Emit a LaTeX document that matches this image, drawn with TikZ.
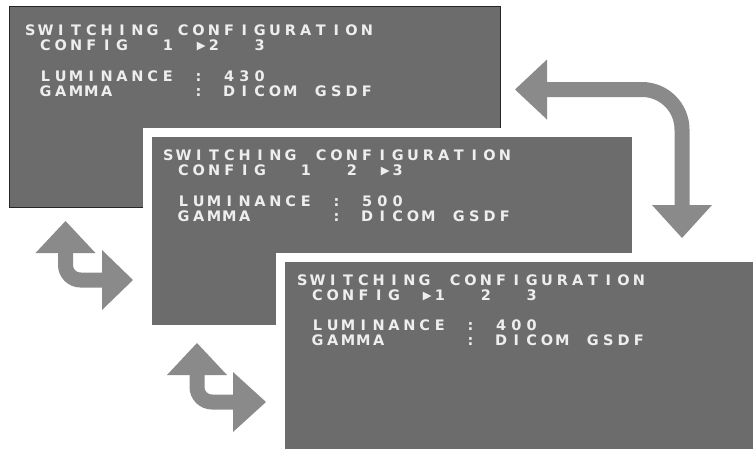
\documentclass[tikz,border=0pt]{standalone}
\usepackage{fontspec}
\setmainfont{DejaVu Sans}
\definecolor{panelgray}{HTML}{6C6C6C}
\definecolor{arrowgray}{HTML}{8A8A8A}
\definecolor{osdwhite}{HTML}{EEEEEE}
\newlength\osdpitch
\setlength\osdpitch{15.3pt}
\newcommand\osdcell[1]{\makebox[\osdpitch][c]{#1}}
\newcommand\osdtri{\makebox[\osdpitch][r]{\fontsize{11.5}{12}\selectfont\raisebox{0.5pt}{▶}\kern0.5pt}}
\def\osd#1{\osdloop#1\relax}
\def\osdloop#1{\ifx#1\relax\else\ifx#1*\osdcell{}\else\ifx#1>\osdtri\else\osdcell{#1}\fi\fi\expandafter\osdloop\fi}
\tikzset{
  panel/.style={rectangle, fill=panelgray, inner sep=0pt, anchor=north west},
  panelframed/.style={panel, preaction={draw=white, line width=18pt}},
  osdtxt/.style={text=osdwhite, inner sep=0pt, anchor=base west, font=\fontsize{14.5}{16}\selectfont\bfseries},
  shaft/.style={draw=arrowgray, line width=15pt},
  head/.style={fill=arrowgray}
}
\begin{document}
\begin{tikzpicture}[x=1pt,y=-1pt]
\useasboundingbox (0,0) rectangle (753,448);
% panel 1
\node[panel, draw=black!85, line width=1.2pt, minimum width=491pt, minimum height=201pt] (p1) at (9,6) {};
\node[osdtxt] (p1a) at (22.4,35) {\osd{SWITCHING*CONFIGURATION}};
\node[osdtxt] (p1b) at (22.4,50) {\osd{*CONFIG**1*>2**3}};
\node[osdtxt] (p1c) at (22.4,81) {\osd{*LUMINANCE*:*430}};
\node[osdtxt] (p1d) at (22.4,96) {\osd{*GAMMA*****:*DICOM*GSDF}};
% big arrow
\draw[shaft, rounded corners=40pt] (546,89.5) -- (682,89.5) -- (682,206);
\fill[head] (515,89.5) -- (547,59.5) -- (547,119.5) -- cycle;
\fill[head] (682,238) -- (652,205) -- (712,205) -- cycle;
% panel 2
\node[panelframed, minimum width=480pt, minimum height=188pt] (p2) at (152,137) {};
\node[osdtxt] (p2a) at (160.4,160) {\osd{SWITCHING*CONFIGURATION}};
\node[osdtxt] (p2b) at (160.4,175) {\osd{*CONFIG**1**2*>3}};
\node[osdtxt] (p2c) at (160.4,206) {\osd{*LUMINANCE*:*500}};
\node[osdtxt] (p2d) at (160.4,221) {\osd{*GAMMA*****:*DICOM*GSDF}};
% small arrow 1
\draw[shaft, rounded corners=15pt] (65.5,252) -- (65.5,280) -- (103,280);
\fill[head] (65.5,221) -- (35.5,253) -- (95.5,253) -- cycle;
\fill[head] (133,280) -- (102,250) -- (102,310) -- cycle;
% small arrow 2
\draw[shaft, rounded corners=15pt] (197,374) -- (197,402) -- (234,402);
\fill[head] (197,343) -- (167,375) -- (227,375) -- cycle;
\fill[head] (266,402) -- (233,372) -- (233,432) -- cycle;
% panel 3
\node[panelframed, minimum width=490pt, minimum height=210pt] (p3) at (285,262) {};
\node[osdtxt] (p3a) at (294.4,285) {\osd{SWITCHING*CONFIGURATION}};
\node[osdtxt] (p3b) at (294.4,300) {\osd{*CONFIG*>1**2**3}};
\node[osdtxt] (p3c) at (294.4,330) {\osd{*LUMINANCE*:*400}};
\node[osdtxt] (p3d) at (294.4,345) {\osd{*GAMMA*****:*DICOM*GSDF}};
\end{tikzpicture}
\end{document}
